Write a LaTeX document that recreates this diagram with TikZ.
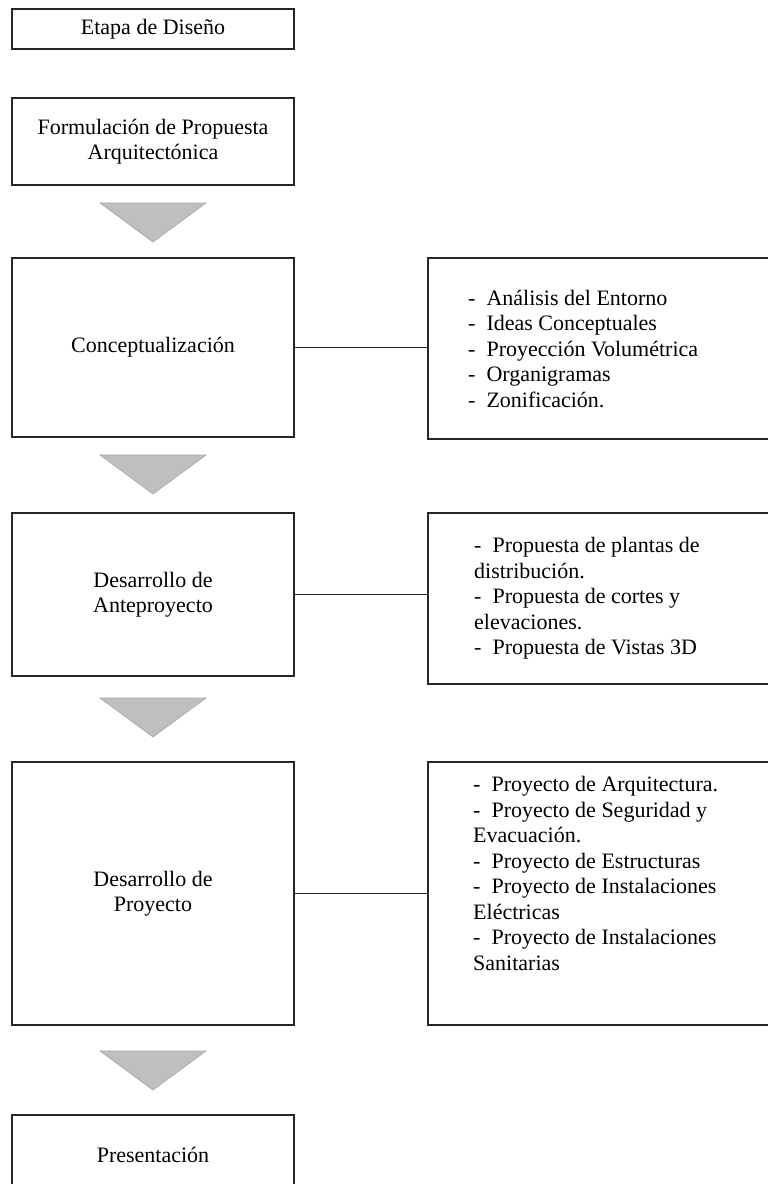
\documentclass[tikz,border=0pt]{standalone}
\usepackage{fontspec}
\setmainfont{Liberation Serif}

\begin{document}
\begin{tikzpicture}[x=1bp,y=-1bp,
    font=\fontsize{22bp}{25.5bp}\selectfont,
    stagebox/.style={draw=black!85,line width=1.5bp,minimum width=282bp,inner sep=0pt,align=center},
    listbox/.style={draw=black!85,line width=1.5bp,minimum width=360bp,inner sep=0pt,anchor=west},
    listtext/.style={align=left,inner sep=0pt},
    link/.style={draw=black!85,line width=1.6bp},
    funnel/.style={fill=black!25,draw=black!35,line width=0.6bp}]
    \pgfmathsetmacro{\stageX}{153}
    \pgfmathsetmacro{\listX}{427}
    \pgfmathsetmacro{\funnelWidth}{106}
    \pgfmathsetmacro{\funnelHeight}{39}

    % Rahmen
    \useasboundingbox (0,0) rectangle (768,1184);
    \clip (0,0) rectangle (768,1184);
    \fill[white] (0,0) rectangle (768,1184);

    % Etapas
    \node[stagebox,minimum height=40bp] (etapa) at (\stageX,29) {Etapa de Diseño};
    \node[stagebox,minimum height=87bp] (formulacion) at (\stageX,141.5) {Formulación de Propuesta\\Arquitectónica};
    \node[stagebox,minimum height=179bp] (concepto) at (\stageX,347.5) {Conceptualización};
    \node[stagebox,minimum height=163bp] (anteproyecto) at (\stageX,594.5) {Desarrollo de\\Anteproyecto};
    \node[stagebox,minimum height=263bp] (proyecto) at (\stageX,893.5) {Desarrollo de\\Proyecto};
    \node[stagebox,minimum height=80bp] (presentacion) at (\stageX,1155) {Presentación};

    % Flechas
    \foreach \ty in {203,455,698,1051}
      \draw[funnel] (\stageX-\funnelWidth/2,\ty) -- (\stageX+\funnelWidth/2,\ty) -- (\stageX,\ty+\funnelHeight) -- cycle;

    % Listas
    \node[listbox,minimum height=181bp] (lista1) at (\listX,348.5) {};
    \node[listtext,anchor=west] (texto1) at ([xshift=41bp]lista1.west)
      {- \ Análisis del Entorno\\- \ Ideas Conceptuales\\- \ Proyección Volumétrica\\- \ Organigramas\\- \ Zonificación.};

    \node[listbox,minimum height=171bp] (lista2) at (\listX,598.5) {};
    \node[listtext,anchor=west] (texto2) at ([xshift=47bp]lista2.west)
      {- \ Propuesta de plantas de\\distribución.\\- \ Propuesta de cortes y\\elevaciones.\\- \ Propuesta de Vistas 3D};

    \node[listbox,minimum height=263bp] (lista3) at (\listX,893.5) {};
    \node[listtext,anchor=north west] (texto3) at ([xshift=46bp,yshift=-15bp]lista3.north west)
      {- \ Proyecto de Arquitectura.\\- \ Proyecto de Seguridad y\\Evacuación.\\- \ Proyecto de Estructuras\\- \ Proyecto de Instalaciones\\Eléctricas\\- \ Proyecto de Instalaciones\\Sanitarias};

    % Conectores
    \draw[link] (concepto.east) -- (concepto.east -| lista1.west);
    \draw[link] (anteproyecto.east) -- (anteproyecto.east -| lista2.west);
    \draw[link] (proyecto.east) -- (proyecto.east -| lista3.west);
\end{tikzpicture}
\end{document}
